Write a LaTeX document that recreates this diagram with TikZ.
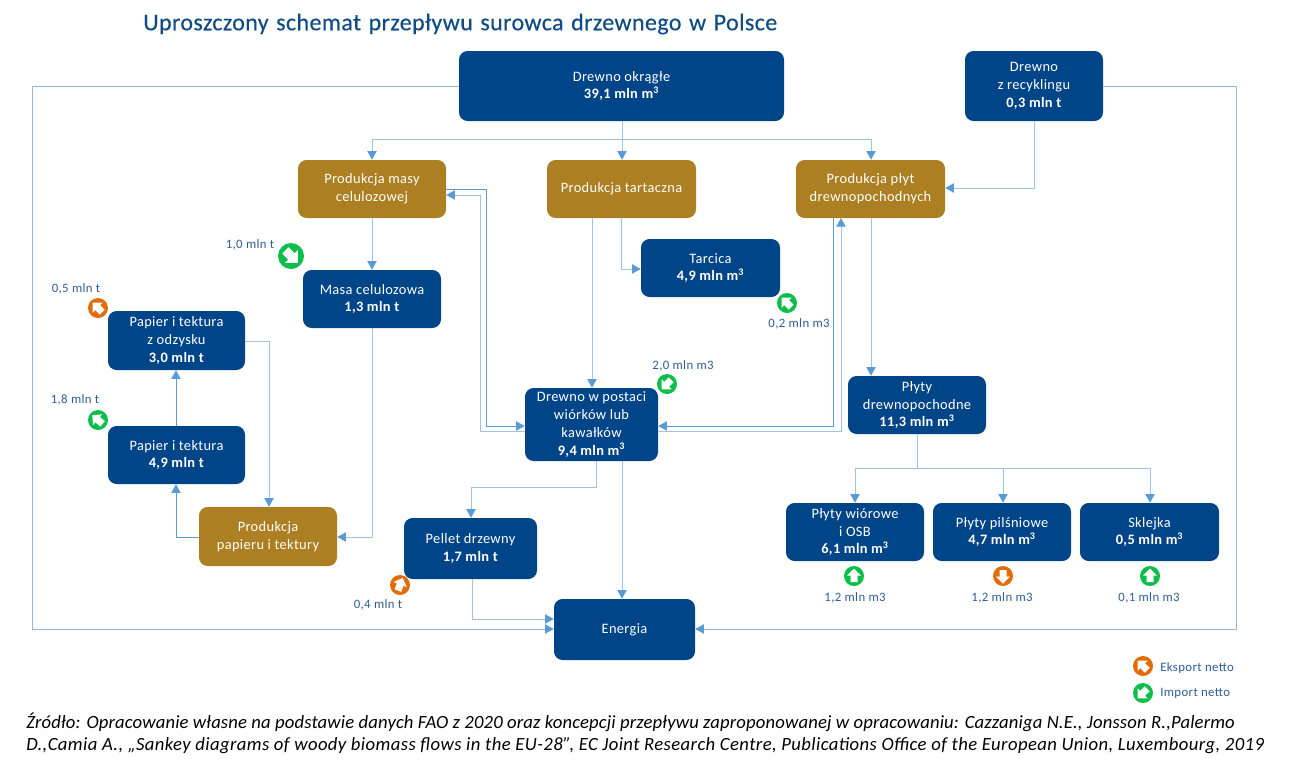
\documentclass[tikz,border=0pt]{standalone}
\usepackage{fontspec}
\setmainfont{Carlito}
\newfontfamily\titlefont[LetterSpace=1.6,WordSpace=1.3,FakeBold=0.3]{Carlito}
\newfontfamily\capfont{Carlito}
\usetikzlibrary{arrows.meta}
\definecolor{dblue}{HTML}{004588}
\definecolor{gold}{HTML}{AB7F22}
\definecolor{lline}{HTML}{9DC3E6}
\definecolor{dline}{HTML}{5B9BD5}
\definecolor{fline}{HTML}{8FB9E3}
\definecolor{lab}{HTML}{2F5C98}
\definecolor{ttl}{HTML}{0F4C85}
\definecolor{gr}{HTML}{0DBE4B}
\definecolor{org}{HTML}{E36C0A}
\tikzset{
 x=0.75pt,y=-0.75pt,
 boxb/.style={rounded corners=6.5pt,fill=#1,text=white,inner sep=0pt,align=center,font=\fontsize{10.8}{13.4}\selectfont\addfontfeature{LetterSpace=2.5}},
 blue box/.style={boxb=dblue},
 gold box/.style={boxb=gold},
 flow/.style={draw=lline,line width=0.75pt,-{Triangle[length=6.5pt,width=7pt,color=dline]}},
 flowd/.style={flow,draw=dline,line width=0.6pt},
 flowf/.style={flow,draw=fline},
 plain/.style={draw=lline,line width=0.75pt},
 lbl/.style={text=lab,inner sep=0pt,font=\fontsize{9.6}{11}\selectfont\addfontfeature{LetterSpace=3}},
 dot/.style={circle,fill=#1,inner sep=0pt,minimum size=15pt},
}
% name, x, y, width, height, style, text
\newcommand{\bx}[7]{\node[#6,minimum width=#4*0.75pt,minimum height=#5*0.75pt] (#1) at (#2,#3) {#7};}
% name, x, y, diameter(px), colour, rotation (0 = arrow up)
\newcommand{\ico}[6]{%
 \node[dot=#5,minimum size=#4*0.75pt] (#1) at (#2,#3) {};
 \begin{scope}[shift={(#1.center)},rotate=#6,scale=#4/20]
  \fill[white] (0,-7.5) -- (7,-0.5) -- (3.5,-0.5) -- (3.5,6) -- (-3.5,6) -- (-3.5,-0.5) -- (-7,-0.5) -- cycle;
 \end{scope}}
\begin{document}
\begin{tikzpicture}
\useasboundingbox (0,0) rectangle (1290,758);
% title
\node[anchor=west,inner sep=0pt,text=ttl,font=\fontsize{18}{20}\selectfont\titlefont] (title) at (143,24) {Uproszczony schemat przepływu surowca drzewnego w Polsce};
% boxes
\bx{okr}{621.5}{86}{325}{70}{blue box}{Drewno okrągłe\\\textbf{39,1 mln m\textsuperscript{3}}}
\bx{rec}{1034}{86}{138}{70}{blue box}{Drewno\\z recyklingu\\\textbf{0,3 mln t}}
\bx{pm}{372}{189}{148}{58}{gold box}{Produkcja masy\\celulozowej}
\bx{pt}{621.5}{189}{149}{58}{gold box}{Produkcja tartaczna}
\bx{pp}{870.5}{189}{149}{58}{gold box}{Produkcja płyt\\drewnopochodnych}
\bx{mas}{372}{299}{138}{58}{blue box}{Masa celulozowa\\\textbf{1,3 mln t}}
\bx{tar}{710.5}{268}{139}{58}{blue box}{Tarcica\\\textbf{4,9 mln m\textsuperscript{3}}}
\bx{odz}{176.5}{340.5}{137}{59}{blue box}{Papier i tektura\\z odzysku\\\textbf{3,0 mln t}}
\bx{pap}{176.5}{455}{137}{58}{blue box}{Papier i tektura\\\textbf{4,9 mln t}}
\bx{ppt}{268}{536.5}{138}{59}{gold box}{Produkcja\\papieru i tektury}
\bx{wio}{591.5}{424.5}{133}{73}{blue box}{Drewno w postaci\\wiórków lub\\kawałków\\\textbf{9,4 mln m\textsuperscript{3}}}
\bx{pd}{917}{405}{138}{58}{blue box}{Płyty\\drewnopochodne\\\textbf{11,3 mln m\textsuperscript{3}}}
\bx{pel}{470.5}{548.5}{133}{61}{blue box}{Pellet drzewny\\\textbf{1,7 mln t}}
\bx{ene}{624.5}{629.5}{141}{61}{blue box}{Energia}
\bx{osb}{855}{532}{138}{58}{blue box}{Płyty wiórowe\\i OSB\\\textbf{6,1 mln m\textsuperscript{3}}}
\bx{pil}{1002}{532}{138}{58}{blue box}{Płyty pilśniowe\\\textbf{4,7 mln m\textsuperscript{3}}}
\bx{skl}{1149.5}{532}{139}{58}{blue box}{Sklejka\\\textbf{0,5 mln m\textsuperscript{3}}}
% connectors
\coordinate (split) at (622,139);
\draw[plain] (okr.south -| split) -- (split);
\draw[flow] (split) -- (pt.north -| split);
\draw[flow] (split) -- (372,139) -- (pm.north);
\draw[flow] (split) -- (871,139) -- (pp.north -| 871,0);
\draw[flow] (rec.south) -- (1034,188) -- (pp.east |- 0,188);
\draw[flowf] (okr.west) -- (32,86) -- (32,629) -- (ene.west |- 0,629);
\draw[flowf] (rec.east) -- (1236,86) -- (1236,629) -- (ene.east |- 0,629);
\draw[flow] (pm.south) -- (mas.north);
\draw[flow] (mas.south) -- (372,537) -- (ppt.east |- 0,537);
\draw[flow] (odz.east |- 0,341) -- (269,341) -- (ppt.north -| 269,0);
\draw[flowd] (ppt.west |- 0,537) -- (176,537) -- (pap.south -| 176,0);
\draw[flowd] (pap.north -| 176,0) -- (odz.south -| 176,0);
\draw[flow] (pt.south -| 592,0) -- (wio.north -| 592,0);
\draw[flow] (pt.south -| 621,0) -- (621,269) -- (tar.west |- 0,269);
\draw[flowd] (pm.east |- 0,189) -- (486,189) -- (486,426) -- (wio.west |- 0,426);
\draw[flow] (wio.west |- 0,431) -- (480,431) -- (480,195) -- (pm.east |- 0,195);
\draw[flowd] (pp.south -| 833,0) -- (833,426) -- (wio.east |- 0,426);
\draw[flow] (wio.east |- 0,431) -- (841,431) -- (841,218);
\draw[flow] (pp.south -| 871,0) -- (pd.north -| 871,0);
\coordinate (fan) at (917,468);
\draw[plain] (pd.south) -- (fan);
\draw[flow] (fan) -- (855,468) -- (osb.north);
\draw[flow] (fan) -- (1003,468) -- (pil.north -| 1003,0);
\draw[flow] (fan) -- (1150,468) -- (skl.north -| 1150,0);
\draw[flow] (wio.south -| 596,0) -- (596,487) -- (471,487) -- (pel.north -| 471,0);
\draw[flow] (wio.south -| 622,0) -- (ene.north -| 622,0);
\draw[flow] (pel.south -| 472,0) -- (472,619) -- (ene.west |- 0,619);
% icons
\ico{i1}{291}{256}{26}{gr}{225}
\ico{i2}{98}{308}{20}{org}{45}
\ico{i3}{98}{420}{20}{gr}{50}
\ico{i4}{787}{303}{20}{gr}{45}
\ico{i5}{667}{384}{20}{gr}{135}
\ico{i6}{400}{585}{20}{org}{-20}
\ico{i7}{854}{576}{20}{gr}{0}
\ico{i8}{1003}{576}{20}{org}{180}
\ico{i9}{1150}{576}{20}{gr}{0}
\ico{i10}{1143}{666}{20}{org}{45}
\ico{i11}{1143}{693}{20}{gr}{135}
% labels
\node[lbl] (l1) at (250,245) {1,0 mln t};
\node[lbl] (l2) at (76,289) {0,5 mln t};
\node[lbl] (l3) at (75,400) {1,8 mln t};
\node[lbl] (l4) at (799,324) {0,2 mln m3};
\node[lbl] (l5) at (683,366) {2,0 mln m3};
\node[lbl] (l6) at (378,605) {0,4 mln t};
\node[lbl] (l7) at (855,598) {1,2 mln m3};
\node[lbl] (l8) at (1002,598) {1,2 mln m3};
\node[lbl] (l9) at (1149,598) {0,1 mln m3};
\node[lbl,anchor=west] (l10) at (1160,668) {Eksport netto};
\node[lbl,anchor=west] (l11) at (1160,693) {Import netto};
% source
\node[anchor=north west,inner sep=0pt,align=left,font=\fontsize{14}{16.5}\selectfont\capfont\itshape] (src) at (26,713) {\addfontfeature{LetterSpace=0.8}Źródło: Opracowanie własne na podstawie danych FAO z 2020 oraz koncepcji przepływu zaproponowanej w opracowaniu: Cazzaniga N.E., Jonsson R.,Palermo\\\addfontfeature{LetterSpace=2.2}D.,Camia A., „Sankey diagrams of woody biomass flows in the EU-28”, EC Joint Research Centre, Publications Office of the European Union, Luxembourg, 2019};
\end{tikzpicture}
\end{document}
